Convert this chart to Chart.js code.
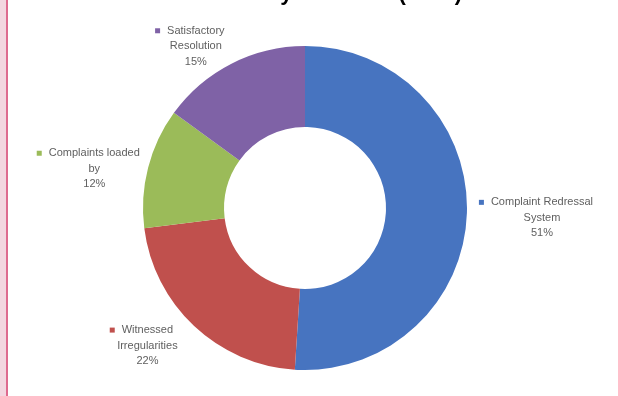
<!DOCTYPE html>
<html>
<head>
<meta charset="utf-8">
<script src="https://cdn.jsdelivr.net/npm/chart.js@4/dist/chart.umd.min.js"></script>
<style>
  html, body { margin: 0; padding: 0; background: #ffffff; }
  #wrap { position: relative; width: 618px; height: 396px; overflow: hidden; }
  #band { position: absolute; left: 0; top: 0; width: 6px; height: 396px; background: #F3D6E0; }
  #edge { position: absolute; left: 6px; top: 0; width: 2px; height: 396px; background: #DE6A8F; }
  canvas { position: absolute; left: 0; top: 0; }
</style>
</head>
<body>
<div id="wrap">
  <canvas id="c" width="618" height="396"></canvas>
  <div id="band"></div>
  <div id="edge"></div>
</div>
<script>
const titleText = "Survey of Voters (2014)";
const categories = [
  ["Complaint Redressal", "System"],
  ["Witnessed", "Irregularities"],
  ["Complaints loaded", "by"],
  ["Satisfactory", "Resolution"]
];
const values = [51, 22, 12, 15];
const colors = ["#4774C0", "#C0504D", "#9BBB59", "#7F62A6"];
const labelNudge = [[0, 0], [0, -2], [15, 3], [4, 0]];

const labelPlugin = {
  id: "sliceLabels",
  afterDatasetsDraw(chart) {
    const ctx = chart.ctx;
    const meta = chart.getDatasetMeta(0);
    const total = values.reduce((a, b) => a + b, 0);
    ctx.save();
    ctx.font = "11px 'Liberation Sans', Arial, sans-serif";
    ctx.textAlign = "center";
    ctx.textBaseline = "middle";
    const lh = 15.5;
    meta.data.forEach((arc, i) => {
      const p = arc.getProps(["x", "y", "startAngle", "endAngle", "outerRadius"], true);
      const mid = (p.startAngle + p.endAngle) / 2;
      const dx = Math.cos(mid), dy = Math.sin(mid);
      const lines = categories[i].concat([Math.round(values[i] / total * 100) + "%"]);
      let w = 0;
      lines.forEach(l => { w = Math.max(w, ctx.measureText(l).width); });
      const gap = 24;
      const cx = p.x + dx * (p.outerRadius + gap) + Math.sign(dx) * w / 2 + labelNudge[i][0];
      const cy = p.y + dy * (p.outerRadius + gap) + 4 + labelNudge[i][1];
      const top = cy - lh * (lines.length - 1) / 2;
      lines.forEach((l, k) => {
        ctx.fillStyle = "#5f5f5f";
        ctx.fillText(l, cx, top + k * lh);
      });
      const w0 = ctx.measureText(lines[0]).width;
      ctx.fillStyle = colors[i];
      ctx.fillRect(cx - w0 / 2 - 12, top - 2.5, 5, 5);
    });
    ctx.restore();
  }
};

const titlePlugin = {
  id: "cutTitle",
  afterDraw(chart) {
    const ctx = chart.ctx;
    ctx.save();
    ctx.font = "bold 22px 'Liberation Sans', Arial, sans-serif";
    ctx.fillStyle = "#000000";
    ctx.textAlign = "right";
    ctx.textBaseline = "alphabetic";
    ctx.fillText(titleText, 462, 0);
    ctx.restore();
  }
};

new Chart(document.getElementById("c"), {
  type: "doughnut",
  data: {
    labels: categories.map(c => c.join(" ")),
    datasets: [{
      data: values,
      backgroundColor: colors,
      borderWidth: 0,
      hoverOffset: 0
    }]
  },
  options: {
    responsive: false,
    animation: false,
    devicePixelRatio: 1,
    cutout: "50%",
    layout: { padding: { top: 46, bottom: 26, left: 0, right: 8 } },
    plugins: {
      legend: { display: false },
      tooltip: { enabled: false },
      title: { display: false }
    }
  },
  plugins: [labelPlugin, titlePlugin]
});
</script>
</body>
</html>
